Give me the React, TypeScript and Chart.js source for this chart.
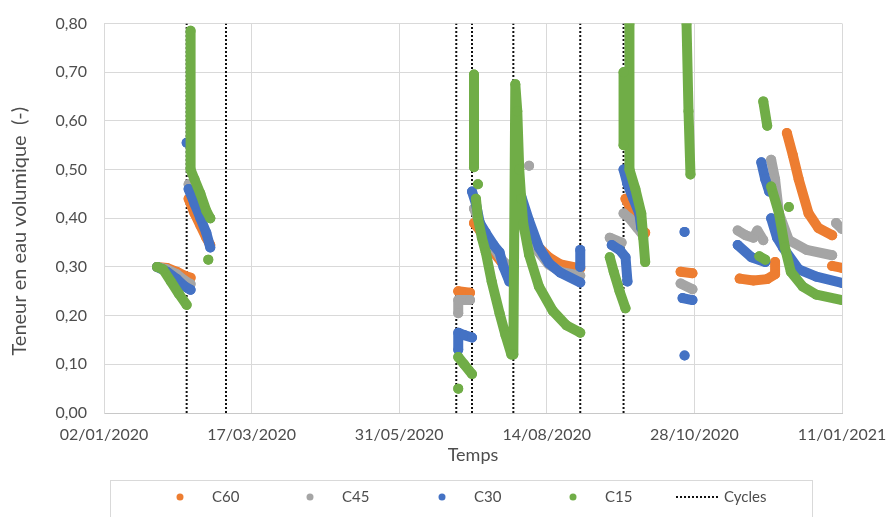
import { useEffect, useRef } from "react";
import { Chart, registerables } from "chart.js";

Chart.register(...registerables);

type Pt = [string, number] | null;

// ---- axis definitions ----
const xStart = "2020-01-02";
const xEnd = "2021-01-11";
const xStepDays = 75;
const yMin = 0;
const yMax = 0.8;
const yStep = 0.1;
const xTitle = "Temps";
const yTitle = "Teneur en eau volumique  (-)";

// ---- series (date, volumetric water content); null = gap between measurement runs ----
const seriesNames = ["C60", "C45", "C30", "C15"];
const seriesColors = ["#ED7D31", "#A5A5A5", "#4472C4", "#70AD47"];

const C60: Pt[] = [
  ["2020-01-29", 0.3], ["2020-02-03", 0.298], ["2020-02-08", 0.29], ["2020-02-12", 0.282], ["2020-02-15", 0.278], null,
  ["2020-02-14", 0.44], ["2020-02-17", 0.41], ["2020-02-20", 0.385], ["2020-02-23", 0.36], ["2020-02-25", 0.345], null,
  ["2020-06-30", 0.25], ["2020-07-06", 0.247], null,
  ["2020-07-08", 0.39], ["2020-07-11", 0.375], ["2020-07-14", 0.355], ["2020-07-18", 0.33], ["2020-07-22", 0.31], ["2020-07-26", 0.295], null,
  ["2020-08-01", 0.4], ["2020-08-05", 0.37], ["2020-08-10", 0.34], ["2020-08-15", 0.32], ["2020-08-21", 0.305], ["2020-08-31", 0.297], null,
  ["2020-09-23", 0.44], ["2020-09-27", 0.41], ["2020-10-01", 0.378], ["2020-10-03", 0.37], null,
  ["2020-10-21", 0.29], ["2020-10-27", 0.287], null,
  ["2020-11-20", 0.276], ["2020-11-27", 0.272], ["2020-12-04", 0.275], ["2020-12-08", 0.285], ["2020-12-08", 0.31], null,
  ["2020-12-14", 0.575], ["2020-12-17", 0.53], ["2020-12-20", 0.48], ["2020-12-25", 0.41], ["2020-12-30", 0.38], ["2021-01-06", 0.365], null,
  ["2021-01-06", 0.302], ["2021-01-11", 0.298],
];

const C45: Pt[] = [
  ["2020-01-29", 0.3], ["2020-02-03", 0.295], ["2020-02-08", 0.285], ["2020-02-12", 0.272], ["2020-02-15", 0.265], null,
  ["2020-02-14", 0.47], ["2020-02-17", 0.44], ["2020-02-20", 0.42], ["2020-02-25", 0.4], null,
  ["2020-06-30", 0.205], ["2020-06-30", 0.232], ["2020-07-06", 0.232], null,
  ["2020-07-08", 0.42], ["2020-07-11", 0.39], ["2020-07-14", 0.365], ["2020-07-18", 0.34], ["2020-07-22", 0.315], ["2020-07-26", 0.3], null,
  ["2020-08-05", 0.508], null,
  ["2020-08-01", 0.42], ["2020-08-05", 0.38], ["2020-08-10", 0.33], ["2020-08-15", 0.305], ["2020-08-21", 0.29], ["2020-08-31", 0.282], null,
  ["2020-09-15", 0.36], ["2020-09-21", 0.35], null,
  ["2020-09-22", 0.41], ["2020-09-25", 0.4], ["2020-09-29", 0.38], ["2020-10-01", 0.37], null,
  ["2020-10-21", 0.266], ["2020-10-27", 0.254], null,
  ["2020-11-19", 0.375], ["2020-11-23", 0.365], ["2020-11-27", 0.36], ["2020-11-29", 0.375], ["2020-12-02", 0.355], null,
  ["2020-12-06", 0.52], ["2020-12-08", 0.48], ["2020-12-10", 0.41], ["2020-12-15", 0.355], ["2020-12-24", 0.335], ["2021-01-06", 0.324], null,
  ["2021-01-08", 0.39], ["2021-01-11", 0.378],
];

const C30: Pt[] = [
  ["2020-01-29", 0.3], ["2020-02-03", 0.29], ["2020-02-08", 0.275], ["2020-02-12", 0.26], ["2020-02-15", 0.253], null,
  ["2020-02-13", 0.555], null,
  ["2020-02-14", 0.46], ["2020-02-17", 0.43], ["2020-02-20", 0.4], ["2020-02-23", 0.37], ["2020-02-25", 0.34], null,
  ["2020-06-30", 0.13], ["2020-06-30", 0.165], ["2020-07-03", 0.16], ["2020-07-07", 0.155], null,
  ["2020-07-07", 0.455], ["2020-07-09", 0.43], ["2020-07-11", 0.39], ["2020-07-14", 0.37], ["2020-07-18", 0.345], ["2020-07-21", 0.33], ["2020-07-23", 0.3], ["2020-07-26", 0.27], null,
  ["2020-08-01", 0.445], ["2020-08-05", 0.395], ["2020-08-10", 0.34], ["2020-08-15", 0.308], ["2020-08-21", 0.288], ["2020-08-31", 0.268], null,
  ["2020-08-31", 0.335], ["2020-08-31", 0.3], null,
  ["2020-09-16", 0.345], ["2020-09-20", 0.335], ["2020-09-23", 0.32], ["2020-09-24", 0.27], null,
  ["2020-09-22", 0.5], ["2020-09-24", 0.47], ["2020-09-27", 0.44], ["2020-09-30", 0.41], ["2020-10-01", 0.38], null,
  ["2020-10-23", 0.372], null,
  ["2020-10-22", 0.236], ["2020-10-27", 0.232], null,
  ["2020-10-23", 0.118], null,
  ["2020-11-19", 0.345], ["2020-11-26", 0.32], ["2020-12-03", 0.31], null,
  ["2020-12-01", 0.515], ["2020-12-03", 0.48], ["2020-12-05", 0.455], null,
  ["2020-12-06", 0.4], ["2020-12-09", 0.36], ["2020-12-12", 0.34], ["2020-12-20", 0.295], ["2020-12-29", 0.28], ["2021-01-11", 0.267],
];

const C15: Pt[] = [
  ["2020-01-29", 0.3], ["2020-02-01", 0.295], ["2020-02-05", 0.27], ["2020-02-09", 0.245], ["2020-02-13", 0.222], null,
  ["2020-02-15", 0.785], ["2020-02-15", 0.5], ["2020-02-17", 0.48], ["2020-02-20", 0.45], ["2020-02-23", 0.415], ["2020-02-25", 0.4], null,
  ["2020-02-24", 0.315], null,
  ["2020-06-30", 0.115], ["2020-07-03", 0.1], ["2020-07-07", 0.08], null,
  ["2020-06-30", 0.05], null,
  ["2020-07-08", 0.695], ["2020-07-08", 0.505], null,
  ["2020-07-10", 0.47], null,
  ["2020-07-09", 0.44], ["2020-07-10", 0.4], ["2020-07-12", 0.36], ["2020-07-14", 0.33], ["2020-07-17", 0.27], ["2020-07-21", 0.205], ["2020-07-24", 0.16], ["2020-07-27", 0.12], null,
  ["2020-07-28", 0.12], ["2020-07-29", 0.675], ["2020-07-30", 0.62], ["2020-07-31", 0.5], ["2020-08-01", 0.44], ["2020-08-02", 0.39], ["2020-08-05", 0.325], ["2020-08-10", 0.26], ["2020-08-17", 0.21], ["2020-08-24", 0.18], ["2020-08-31", 0.165], null,
  ["2020-09-15", 0.32], ["2020-09-17", 0.29], ["2020-09-20", 0.25], ["2020-09-23", 0.215], null,
  ["2020-09-22", 0.7], ["2020-09-22", 0.55], null,
  ["2020-09-25", 0.8], ["2020-09-25", 0.5], ["2020-09-28", 0.46], ["2020-10-01", 0.41], ["2020-10-02", 0.36], ["2020-10-03", 0.31], null,
  ["2020-10-24", 0.8], ["2020-10-25", 0.62], ["2020-10-26", 0.49], null,
  ["2020-12-02", 0.64], ["2020-12-04", 0.59], null,
  ["2020-11-30", 0.322], ["2020-12-03", 0.315], null,
  ["2020-12-15", 0.423], null,
  ["2020-12-06", 0.465], ["2020-12-10", 0.41], ["2020-12-13", 0.34], ["2020-12-16", 0.29], ["2020-12-22", 0.26], ["2020-12-29", 0.243], ["2021-01-11", 0.232],
];

const seriesData = [C60, C45, C30, C15];

// ---- wetting/drying cycle markers ----
const cycleLabel = "Cycles";
const cycleDates = ["2020-02-13", "2020-03-04", "2020-06-29", "2020-07-07", "2020-07-28", "2020-08-31", "2020-09-22"];

// ---- helpers ----
const dayMs = 86400000;
const utc = (s: string) => {
  const [y, m, d] = s.split("-").map(Number);
  return Date.UTC(y, m - 1, d);
};
const base = utc(xStart);
const toDay = (s: string) => (utc(s) - base) / dayMs;
const fmtDate = (v: number) => {
  const d = new Date(base + Math.round(v) * dayMs);
  const p = (n: number) => String(n).padStart(2, "0");
  return `${p(d.getUTCDate())}/${p(d.getUTCMonth() + 1)}/${d.getUTCFullYear()}`;
};
const toPoints = (arr: Pt[]) => {
  let lastX = 0;
  return arr.map((p) => {
    if (p === null) return { x: lastX, y: null as any };
    lastX = toDay(p[0]);
    return { x: lastX, y: p[1] };
  });
};

const FONT = "Lato, 'Open Sans', sans-serif";
const TEXT = "#4d4d4d";

// y-axis title, placed like the reference (slightly below the plot's centre)
const yTitlePlugin = {
  id: "yTitle",
  afterDraw(chart: any) {
    const { ctx, chartArea } = chart;
    ctx.save();
    ctx.translate(20, (chartArea.top + chartArea.bottom) / 2 + 13);
    ctx.rotate(-Math.PI / 2);
    ctx.font = `20px ${FONT}`;
    ctx.fillStyle = TEXT;
    ctx.textAlign = "center";
    ctx.textBaseline = "middle";
    ctx.fillText(yTitle, 0, 0);
    ctx.restore();
  },
};

const legendPlugin = {
  id: "boxedLegend",
  afterDraw(chart: any) {
    const { ctx } = chart;
    ctx.save();
    ctx.strokeStyle = "#d9d9d9";
    ctx.lineWidth = 1;
    ctx.strokeRect(110.5, 480.5, 702, 45);
    const y = 497;
    const xs = [180, 310, 442, 573, 676];
    ctx.font = `15px ${FONT}`;
    ctx.textBaseline = "middle";
    ctx.textAlign = "left";
    chart.data.datasets.forEach((ds: any, i: number) => {
      const x = xs[i];
      if (ds.isCycle) {
        ctx.strokeStyle = "#111";
        ctx.lineWidth = 2;
        ctx.setLineDash([2, 2]);
        ctx.beginPath();
        ctx.moveTo(x, y);
        ctx.lineTo(x + 42, y);
        ctx.stroke();
        ctx.setLineDash([]);
        ctx.fillStyle = TEXT;
        ctx.fillText(ds.label, x + 48, y);
      } else {
        ctx.fillStyle = ds.borderColor;
        ctx.beginPath();
        ctx.arc(x, y, 3.5, 0, Math.PI * 2);
        ctx.fill();
        ctx.fillStyle = TEXT;
        ctx.fillText(ds.label, x + 32, y);
      }
    });
    ctx.restore();
  },
};

export default function App() {
  const ref = useRef<HTMLCanvasElement>(null);

  useEffect(() => {
    if (!ref.current) return;
    const datasets: any[] = seriesData.map((arr, i) => ({
      label: seriesNames[i],
      data: toPoints(arr),
      borderColor: seriesColors[i],
      backgroundColor: seriesColors[i],
      borderWidth: 10,
      borderCapStyle: "round",
      borderJoinStyle: "round",
      pointRadius: 5,
      pointBorderWidth: 0,
      pointHoverRadius: 5,
      spanGaps: false,
      tension: 0,
      order: 4 - i,
      clip: 0,
    }));
    datasets.push({
      label: cycleLabel,
      isCycle: true,
      data: cycleDates.flatMap((d) => [
        { x: toDay(d), y: yMin },
        { x: toDay(d), y: yMax },
        { x: toDay(d), y: null },
      ]),
      borderColor: "#111",
      borderWidth: 2,
      borderDash: [2, 2],
      pointRadius: 0,
      spanGaps: false,
      order: 10,
    });

    const chart = new Chart(ref.current, {
      type: "line",
      data: { datasets },
      options: {
        animation: false,
        responsive: false,
        events: [],
        layout: { padding: { left: 4, right: 46, top: 23.5, bottom: 47 } },
        plugins: { legend: { display: false }, tooltip: { enabled: false } },
        scales: {
          x: {
            type: "linear",
            min: toDay(xStart),
            max: toDay(xEnd),
            afterFit: (s: any) => {
              s.height = 57;
              s.paddingLeft = 0;
              s.paddingRight = 0;
            },
            ticks: {
              stepSize: xStepDays,
              padding: 12,
              color: TEXT,
              font: { family: FONT, size: 16 },
              maxRotation: 0,
              callback: (v: any) => fmtDate(Number(v)),
            },
            grid: { color: "#d9d9d9", drawTicks: false },
            border: { color: "#c8c8c8" },
            title: {
              display: true,
              text: xTitle,
              color: TEXT,
              font: { family: FONT, size: 18 },
              padding: { top: 4, bottom: 4 },
            },
          },
          y: {
            type: "linear",
            min: yMin,
            max: yMax,
            afterFit: (s: any) => {
              s.width = 100;
              s.paddingTop = 0;
              s.paddingBottom = 0;
            },
            ticks: {
              stepSize: yStep,
              padding: 17,
              color: TEXT,
              font: { family: FONT, size: 16 },
              callback: (v: any) => Number(v).toFixed(2).replace(".", ","),
            },
            grid: { color: "#d9d9d9", drawTicks: false },
            border: { color: "#d9d9d9" },
            title: { display: false },
          },
        },
      },
      plugins: [yTitlePlugin, legendPlugin],
    });
    return () => chart.destroy();
  }, []);

  return (
    <div style={{ position: "absolute", left: 0, top: 0, width: 888, height: 517, background: "#fff" }}>
      <canvas ref={ref} width={888} height={517} />
    </div>
  );
}
